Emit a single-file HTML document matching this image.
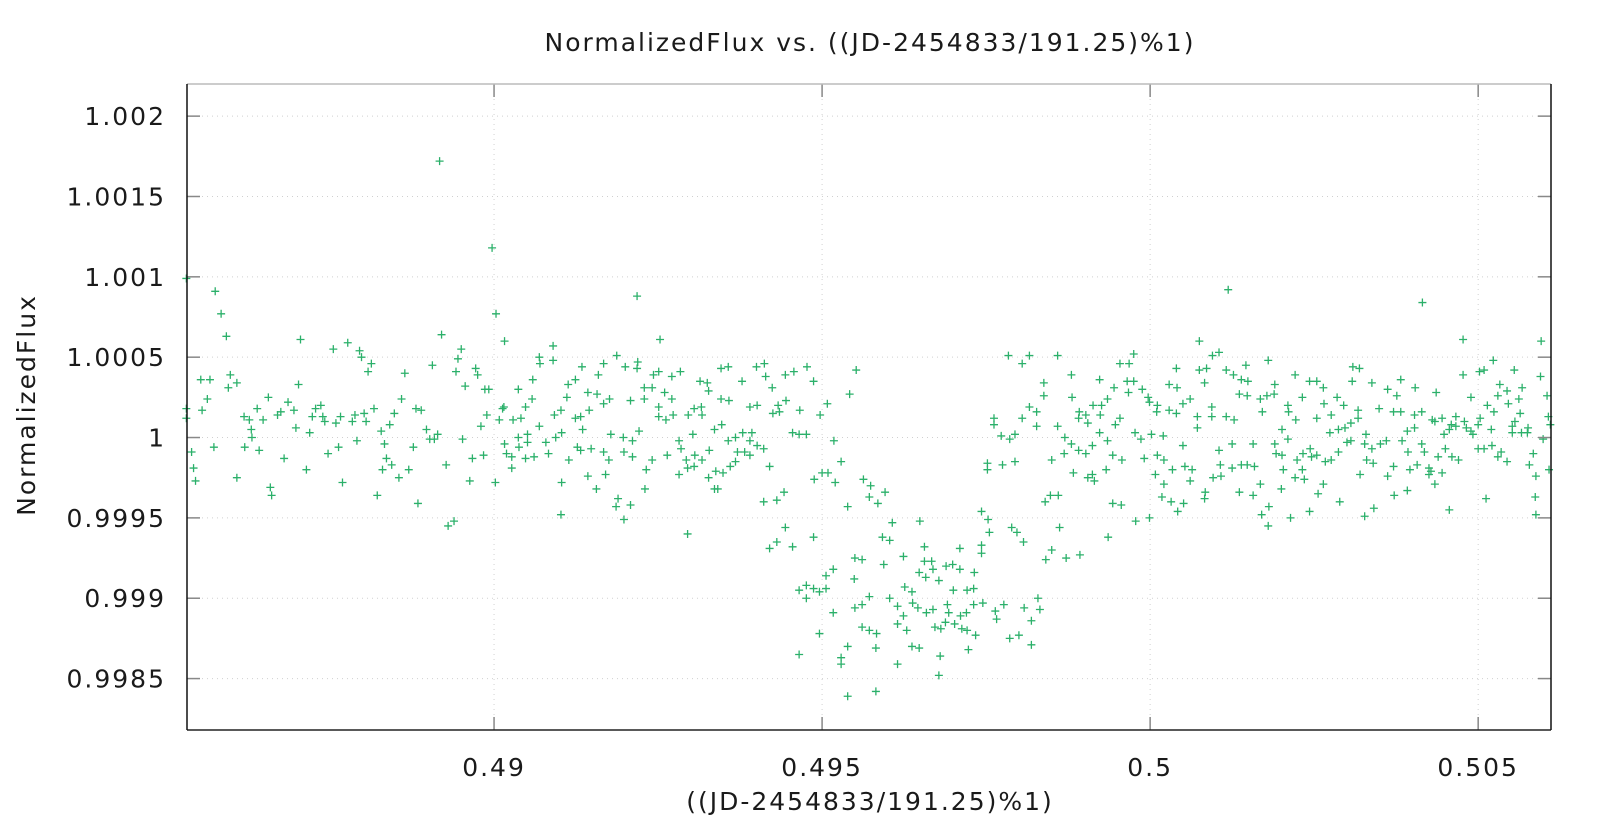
<!DOCTYPE html>
<html>
<head>
<meta charset="utf-8">
<style>
html,body{margin:0;padding:0;background:#fff;}
svg{display:block;}
text{font-family:"DejaVu Sans","Liberation Sans",sans-serif;fill:#1a1a1a;}
</style>
</head>
<body>
<svg id="chart" width="1604" height="816" viewBox="0 0 1604 816" xmlns="http://www.w3.org/2000/svg">
  <text x="870" y="51" font-size="25" text-anchor="middle" letter-spacing="2">NormalizedFlux vs. ((JD-2454833/191.25)%1)</text>
  <text x="870" y="810" font-size="25" text-anchor="middle" letter-spacing="2">((JD-2454833/191.25)%1)</text>
  <text x="0" y="0" font-size="25" text-anchor="middle" letter-spacing="2" transform="translate(35,405) rotate(-90)">NormalizedFlux</text>
  <g id="grid"></g>
  <g id="marks"></g>
  <g id="axes"></g>
</svg>
<script>
const xTicks = [0.49, 0.495, 0.5, 0.505];
const xTickLabels = ["0.49", "0.495", "0.5", "0.505"];
const yTicks = [0.9985, 0.999, 0.9995, 1.0, 1.0005, 1.001, 1.0015, 1.002];
const yTickLabels = ["0.9985", "0.999", "0.9995", "1", "1.0005", "1.001", "1.0015", "1.002"];
const xDomain = [0.48532, 0.50611];
const yDomain = [0.99818, 1.00220];
const observations = [
[0.48531,1.00099],[0.48531,1.00018],[0.48531,1.00012],[0.48539,0.99991],[0.48542,0.99981],[0.48545,0.99973],[0.48553,1.00036],[0.48555,1.00017],[0.48563,1.00024],[0.48567,1.00036],
[0.48573,0.99994],[0.48575,1.00091],[0.48584,1.00077],[0.48592,1.00063],[0.48595,1.00031],[0.48598,1.00039],[0.48608,0.99975],[0.48608,1.00034],[0.48619,1.00013],[0.48620,0.99994],
[0.48627,1.00011],[0.48630,1.00005],[0.48631,1.00000],[0.48639,1.00018],[0.48642,0.99992],[0.48648,1.00011],[0.48656,1.00025],[0.48659,0.99969],[0.48661,0.99964],[0.48670,1.00014],
[0.48675,1.00016],[0.48680,0.99987],[0.48686,1.00022],[0.48695,1.00017],[0.48698,1.00006],[0.48702,1.00033],[0.48705,1.00061],[0.48714,0.99980],[0.48719,1.00003],[0.48723,1.00013],
[0.48728,1.00018],[0.48736,1.00020],[0.48739,1.00013],[0.48742,1.00010],[0.48747,0.99990],[0.48755,1.00055],[0.48759,1.00009],[0.48763,0.99994],[0.48766,1.00013],[0.48769,0.99972],
[0.48777,1.00059],[0.48784,1.00010],[0.48788,1.00014],[0.48791,0.99998],[0.48795,1.00054],[0.48798,1.00050],[0.48802,1.00015],[0.48805,1.00010],[0.48808,1.00041],[0.48813,1.00046],
[0.48817,1.00018],[0.48822,0.99964],[0.48828,1.00004],[0.48830,0.99980],[0.48833,0.99996],[0.48836,0.99987],[0.48841,1.00008],[0.48844,0.99983],[0.48848,1.00015],[0.48855,0.99975],
[0.48859,1.00024],[0.48864,1.00040],[0.48870,0.99980],[0.48877,0.99994],[0.48881,1.00018],[0.48884,0.99959],[0.48889,1.00017],[0.48897,1.00005],[0.48902,0.99999],[0.48906,1.00045],
[0.48909,0.99999],[0.48914,1.00002],[0.48917,1.00172],[0.48920,1.00064],[0.48927,0.99983],[0.48930,0.99945],[0.48939,0.99948],[0.48942,1.00041],[0.48945,1.00049],[0.48950,1.00055],
[0.48952,0.99999],[0.48956,1.00032],[0.48963,0.99973],[0.48967,0.99987],[0.48972,1.00043],[0.48975,1.00039],[0.48980,1.00007],[0.48984,0.99989],[0.48986,1.00030],[0.48989,1.00014],
[0.48992,1.00030],[0.48997,1.00118],[0.49002,0.99972],[0.49003,1.00077],[0.49008,1.00011],[0.49013,1.00018],[0.49016,1.00060],[0.49019,0.99990],
[0.49015,1.00019],[0.49016,0.99996],[0.49029,1.00011],[0.49027,0.99988],[0.49027,0.99981],[0.49037,1.00030],[0.49037,1.00000],[0.49038,0.99994],[0.49041,1.00012],[0.49048,1.00019],
[0.49048,0.99987],[0.49051,1.00002],[0.49051,0.99997],[0.49058,1.00024],[0.49059,1.00036],[0.49061,0.99988],[0.49069,1.00050],[0.49070,1.00046],[0.49069,1.00007],[0.49079,0.99997],
[0.49083,0.99990],[0.49090,1.00057],[0.49090,1.00048],[0.49092,1.00014],[0.49094,1.00000],[0.49102,1.00017],[0.49103,1.00003],[0.49103,0.99972],[0.49102,0.99952],[0.49111,1.00025],
[0.49113,1.00033],[0.49114,0.99986],[0.49124,1.00012],[0.49124,1.00036],[0.49127,0.99994],[0.49132,1.00013],[0.49132,0.99992],[0.49134,1.00044],[0.49135,1.00005],[0.49143,1.00028],
[0.49145,1.00017],[0.49143,0.99976],[0.49148,0.99993],[0.49156,0.99968],[0.49157,1.00027],[0.49159,1.00039],[0.49167,1.00021],[0.49167,1.00046],[0.49167,0.99991],[0.49170,0.99977],
[0.49175,0.99986],[0.49176,1.00024],[0.49178,1.00002],[0.49187,1.00051],[0.49189,0.99962],[0.49186,0.99957],[0.49197,1.00000],[0.49198,0.99991],[0.49200,1.00044],[0.49208,1.00023],
[0.49211,0.99998],[0.49211,0.99988],[0.49198,0.99949],[0.49208,0.99958],[0.49218,1.00088],[0.49218,1.00043],[0.49219,1.00047],[0.49221,1.00004],[0.49229,1.00031],[0.49229,1.00024],
[0.49230,0.99968],[0.49232,0.99980],[0.49241,1.00031],[0.49241,0.99986],[0.49243,1.00039],[0.49251,1.00041],[0.49251,1.00019],[0.49251,1.00013],[0.49253,1.00061],[0.49260,1.00028],
[0.49262,1.00011],[0.49264,0.99989],[0.49271,1.00038],[0.49271,1.00024],[0.49273,1.00014],[0.49282,0.99998],[0.49284,1.00041],[0.49285,0.99993],[0.49282,0.99977],[0.49293,0.99986],
[0.49295,0.99981],[0.49296,1.00014],[0.49303,1.00002],[0.49305,1.00018],[0.49306,0.99989],[0.49305,0.99982],[0.49314,1.00035],[0.49316,1.00019],[0.49317,1.00014],[0.49317,0.99986],
[0.49325,1.00034],[0.49327,1.00029],[0.49328,0.99992],[0.49327,0.99975],[0.49336,1.00005],[0.49336,0.99968],[0.49341,0.99968],[0.49338,0.99979],[0.49346,1.00043],[0.49346,1.00024],
[0.49347,1.00008],[0.49349,0.99978],[0.49357,1.00044],[0.49358,1.00023],[0.49357,0.99998],[0.49360,0.99982],[0.49368,1.00000],[0.49368,0.99985],[0.49371,0.99991],[0.49378,1.00035],
[0.49379,1.00003],[0.49382,0.99991],[0.49390,0.99998],[0.49390,1.00019],[0.49390,0.99989],[0.49393,1.00003],[0.49400,1.00044],[0.49401,0.99995],[0.49401,1.00020],[0.49411,0.99993],
[0.49411,0.99960],[0.49412,1.00046],[0.49414,1.00038],[0.49420,0.99982],[0.49424,1.00031],[0.49431,0.99961],[0.49433,1.00020],[0.49435,1.00016],[0.49425,1.00015],[0.49442,0.99966],
[0.49444,1.00039],[0.49445,1.00023],[0.49457,1.00041],[0.49455,1.00003],[0.49465,1.00002],[0.49466,1.00017],[0.49476,1.00002],[0.49477,1.00044],[0.49487,1.00035],[0.49488,0.99974],
[0.49497,1.00014],[0.49500,0.99978],[0.49508,1.00021],[0.49509,0.99978],[0.49518,0.99998],[0.49520,0.99972],[0.49295,0.99940],
[0.49444,0.99944],[0.49431,0.99935],[0.49420,0.99931],[0.49455,0.99932],[0.49487,0.99938],[0.49465,0.99905],[0.49476,0.99908],[0.49476,0.99900],[0.49487,0.99906],[0.49496,0.99904],
[0.49506,0.99906],[0.49506,0.99914],[0.49517,0.99918],[0.49517,0.99891],[0.49496,0.99878],[0.49465,0.99865],[0.49529,0.99863],[0.49529,0.99859],[0.49539,0.99870],[0.49539,0.99839],
[0.49550,0.99925],[0.49561,0.99924],[0.49549,0.99912],[0.49550,0.99894],[0.49561,0.99896],[0.49561,0.99882],[0.49572,0.99901],[0.49572,0.99880],[0.49583,0.99878],[0.49582,0.99869],
[0.49582,0.99842],[0.49594,0.99921],[0.49592,0.99938],[0.49603,0.99936],[0.49603,0.99900],[0.49607,0.99947],[0.49615,0.99895],[0.49615,0.99884],[0.49615,0.99859],[0.49624,0.99926],
[0.49624,0.99889],[0.49626,0.99907],[0.49629,0.99880],[0.49637,0.99904],[0.49637,0.99870],[0.49638,0.99897],[0.49646,0.99894],[0.49648,0.99869],[0.49649,0.99948],[0.49648,0.99916],
[0.49656,0.99932],[0.49656,0.99923],[0.49658,0.99913],[0.49659,0.99891],[0.49667,0.99923],[0.49669,0.99918],[0.49669,0.99893],[0.49672,0.99882],[0.49678,0.99911],[0.49680,0.99864],
[0.49678,0.99852],[0.49681,0.99881],[0.49689,0.99920],[0.49691,0.99896],[0.49693,0.99891],[0.49688,0.99885],[0.49699,0.99921],[0.49700,0.99905],[0.49702,0.99884],[0.49710,0.99931],
[0.49710,0.99918],[0.49711,0.99889],[0.49713,0.99881],[0.49721,0.99905],[0.49721,0.99880],[0.49723,0.99868],[0.49720,0.99891],[0.49731,0.99906],[0.49732,0.99916],[0.49731,0.99896],
[0.49734,0.99877],[0.49743,0.99954],[0.49743,0.99933],[0.49743,0.99928],[0.49745,0.99897],[0.49753,0.99949],[0.49755,0.99941],[0.49764,0.99892],[0.49766,0.99887],[0.49777,0.99896],
[0.49786,0.99875],[0.49789,0.99944],[0.49797,0.99941],[0.49800,0.99877],[0.49807,0.99935],[0.49808,0.99894],[0.49819,0.99886],[0.49819,0.99871],[0.49829,0.99900],[0.49832,0.99893],
[0.49841,0.99924],[0.49850,0.99930],[0.49840,0.99960],[0.49848,0.99964],[0.49860,0.99964],[0.49862,0.99944],[0.49872,0.99925],[0.49893,0.99927],[0.49936,0.99938],
[0.49752,0.99984],[0.49752,0.99980],[0.49762,1.00012],[0.49762,1.00008],[0.49775,0.99983],[0.49773,1.00001],[0.49786,0.99999],[0.49794,1.00002],[0.49794,0.99985],[0.49784,1.00051],
[0.49805,1.00046],[0.49816,1.00051],[0.49816,1.00019],[0.49805,1.00012],[0.49827,1.00016],[0.49827,1.00007],[0.49838,1.00034],[0.49838,1.00026],[0.49850,0.99986],[0.49859,1.00007],
[0.49859,1.00051],[0.49552,1.00042],[0.49542,1.00027],[0.49529,0.99985],[0.49539,0.99957],[0.49563,0.99974],[0.49574,0.99970],[0.49572,0.99963],[0.49585,0.99959],[0.49596,0.99966],
[0.49880,1.00039],[0.49881,1.00025],[0.49870,1.00000],[0.49880,0.99996],[0.49869,0.99990],[0.49883,0.99978],[0.49892,1.00016],[0.49891,1.00012],[0.49902,1.00014],[0.49905,1.00009],
[0.49891,0.99992],[0.49902,0.99990],[0.49912,0.99995],[0.49905,0.99975],[0.49912,0.99977],[0.49915,0.99973],[0.49913,1.00020],[0.49923,1.00036],[0.49926,1.00020],[0.49924,1.00014],
[0.49923,1.00003],[0.49935,1.00024],[0.49935,0.99998],[0.49933,0.99980],[0.49945,1.00031],[0.49947,1.00008],[0.49943,0.99989],[0.49943,0.99959],[0.49954,1.00046],[0.49968,1.00046],
[0.49954,1.00012],[0.49957,0.99986],[0.49956,0.99958],[0.49965,1.00035],[0.49975,1.00052],[0.49975,1.00035],[0.49967,1.00028],[0.49977,1.00003],[0.49978,0.99948],[0.49988,1.00030],
[0.49986,0.99999],[0.49991,0.99987],[0.49997,1.00025],[0.49999,1.00022],[0.50002,1.00002],[0.49999,0.99950],[0.50011,1.00020],[0.50010,1.00016],[0.50020,1.00001],[0.50011,0.99989],
[0.50021,0.99986],[0.50008,0.99977],[0.50021,0.99971],[0.50018,0.99963],[0.50032,0.99960],[0.50040,1.00043],[0.50029,1.00033],[0.50041,1.00031],[0.50029,1.00017],[0.50040,1.00015],
[0.50034,0.99980],[0.50050,1.00021],[0.50050,0.99995],[0.50053,0.99982],[0.50064,0.99980],[0.50061,0.99973],[0.50051,0.99959],[0.50042,0.99954],[0.50061,1.00024],[0.50075,1.00060],
[0.50075,1.00042],[0.50086,1.00043],[0.50083,1.00034],[0.50072,1.00013],[0.50072,1.00006],[0.50094,1.00019],[0.50094,1.00013],[0.50095,1.00051],[0.50105,1.00053],[0.50119,1.00092],
[0.50116,1.00042],[0.50127,1.00039],[0.50139,1.00036],[0.50149,1.00035],[0.50136,1.00027],[0.50148,1.00026],[0.50146,1.00045],[0.50116,1.00013],[0.50128,1.00011],[0.50105,0.99992],
[0.50107,0.99983],[0.50108,0.99976],[0.50096,0.99975],[0.50084,0.99966],[0.50083,0.99962],[0.50125,0.99996],[0.50125,0.99981],[0.50139,0.99983],[0.50148,0.99983],[0.50159,0.99982],
[0.50157,0.99996],[0.50136,0.99966],[0.50157,0.99964],[0.50168,0.99971],[0.50170,0.99952],[0.50181,0.99957],[0.50180,0.99945],[0.50168,1.00024],[0.50171,1.00016],[0.50178,1.00026],
[0.50180,1.00048],[0.50189,1.00027],[0.50190,1.00033],[0.50190,0.99996],[0.50192,0.99990],[0.50201,0.99989],[0.50203,0.99980],[0.50200,0.99968],[0.50201,1.00005],[0.50210,1.00020],
[0.50211,1.00016],[0.50210,0.99999],
[0.50221,1.00039],[0.50232,1.00025],[0.50222,1.00011],[0.50214,0.99950],[0.50243,1.00035],[0.50254,1.00035],[0.50264,1.00031],[0.50265,1.00021],[0.50254,1.00012],[0.50244,0.99993],
[0.50233,0.99990],[0.50246,0.99988],[0.50254,0.99989],[0.50224,0.99986],[0.50232,0.99980],[0.50221,0.99975],[0.50235,0.99974],[0.50264,0.99971],[0.50256,0.99965],[0.50243,0.99954],
[0.50267,0.99985],[0.50276,0.99986],[0.50287,0.99991],[0.50274,1.00003],[0.50276,1.00014],[0.50285,1.00025],[0.50287,1.00005],[0.50295,1.00020],[0.50297,1.00006],[0.50300,0.99997],
[0.50306,0.99998],[0.50306,1.00009],[0.50289,0.99960],[0.50309,1.00044],[0.50319,1.00043],[0.50308,1.00035],[0.50317,1.00017],[0.50317,1.00012],[0.50329,1.00002],[0.50327,0.99996],
[0.50338,0.99993],[0.50330,0.99986],[0.50340,0.99984],[0.50320,0.99977],[0.50327,0.99951],[0.50341,0.99956],[0.50338,1.00034],[0.50349,1.00018],[0.50351,0.99996],[0.50360,0.99998],
[0.50362,1.00030],[0.50371,1.00016],[0.50382,1.00016],[0.50376,1.00026],[0.50382,1.00036],[0.50384,0.99998],[0.50362,0.99976],[0.50371,0.99982],[0.50372,0.99964],[0.50392,0.99967],
[0.50393,0.99991],[0.50392,1.00004],[0.50403,1.00014],[0.50403,1.00006],[0.50404,1.00031],[0.50396,0.99980],[0.50407,0.99983],[0.50414,1.00016],[0.50414,0.99996],[0.50418,0.99991],
[0.50415,1.00084],[0.50425,0.99981],[0.50425,0.99977],[0.50428,0.99979],[0.50434,0.99971],[0.50430,1.00011],[0.50434,1.00010],[0.50436,1.00028],[0.50445,1.00012],[0.50448,1.00002],
[0.50439,0.99988],[0.50445,0.99978],[0.50450,0.99993],[0.50456,1.00005],[0.50459,1.00008],[0.50466,1.00013],[0.50466,1.00007],[0.50460,0.99988],[0.50470,0.99986],[0.50456,0.99955],
[0.50477,1.00061],[0.50477,1.00039],[0.50479,1.00010],[0.50482,1.00006],[0.50489,1.00025],[0.50489,1.00004],[0.50492,1.00002],[0.50500,1.00008],[0.50503,1.00012],[0.50500,0.99993],
[0.50509,0.99993],[0.50502,1.00041],[0.50509,1.00042],[0.50523,1.00048],[0.50514,1.00020],[0.50524,1.00016],[0.50520,1.00005],[0.50521,0.99995],[0.50535,0.99991],[0.50530,0.99988],
[0.50544,0.99985],[0.50533,1.00033],[0.50530,1.00026],[0.50544,1.00029],[0.50546,1.00021],[0.50555,1.00042],[0.50552,1.00007],[0.50552,1.00003],[0.50556,1.00010],[0.50512,0.99962],
[0.50596,1.00060],[0.50595,1.00038],[0.50567,1.00031],[0.50605,1.00026],[0.50562,1.00024],[0.50564,1.00015],[0.50607,1.00013],[0.50610,1.00008],[0.50576,1.00006],[0.50575,1.00003],
[0.50566,1.00003],[0.50599,0.99999],[0.50584,0.99990],[0.50578,0.99983],[0.50608,0.99980],[0.50588,0.99976],[0.50587,0.99963],[0.50588,0.99952]
];

const L = 187, R = 1551, T = 84, B = 730;
function xScale(v){ return L + (v - xDomain[0]) / (xDomain[1] - xDomain[0]) * (R - L); }
function yScale(v){ return B - (v - yDomain[0]) / (yDomain[1] - yDomain[0]) * (B - T); }
const NS = "http://www.w3.org/2000/svg";
function mk(tag, attrs){ const e = document.createElementNS(NS, tag); for (const k in attrs) e.setAttribute(k, attrs[k]); return e; }

const grid = document.getElementById('grid');
const axes = document.getElementById('axes');
const marks = document.getElementById('marks');

yTicks.forEach((t, i) => {
  const y = yScale(t);
  const g = mk('line', {x1: L, x2: R, y1: y, y2: y, stroke: '#d0d0d0', 'stroke-width': 1, 'stroke-dasharray': '1,4'});
  
  
  grid.appendChild(g);
  const tl = mk('line', {x1: L, x2: L + 13, y1: y, y2: y, stroke: '#888', 'stroke-width': 1.5});
  
  
  axes.appendChild(tl);
  const tr = mk('line', {x1: R - 13, x2: R, y1: y, y2: y, stroke: '#888', 'stroke-width': 1.5});
  
  
  axes.appendChild(tr);
  const lb = mk('text', {x: 166, y: y + 9, 'font-size': 25, 'text-anchor': 'end', 'letter-spacing': 2});
  lb.textContent = yTickLabels[i];
  
  
  axes.appendChild(lb);
});

xTicks.forEach((t, i) => {
  const x = xScale(t);
  const g = mk('line', {x1: x, x2: x, y1: T, y2: B, stroke: '#d0d0d0', 'stroke-width': 1, 'stroke-dasharray': '1,4'});
  
  
  grid.appendChild(g);
  const tb = mk('line', {x1: x, x2: x, y1: B, y2: B - 13, stroke: '#888', 'stroke-width': 1.5});
  
  
  axes.appendChild(tb);
  const tt = mk('line', {x1: x, x2: x, y1: T, y2: T + 13, stroke: '#888', 'stroke-width': 1.5});
  
  
  axes.appendChild(tt);
  const lb = mk('text', {x: x, y: 776, 'font-size': 25, 'text-anchor': 'middle', 'letter-spacing': 2});
  lb.textContent = xTickLabels[i];
  
  
  axes.appendChild(lb);
});

const frameTop = mk('line', {x1: L, x2: R, y1: T, y2: T, stroke: '#bbb', 'stroke-width': 1.5});


axes.appendChild(frameTop);
const frameBottom = mk('line', {x1: L, x2: R, y1: B, y2: B, stroke: '#222', 'stroke-width': 1.5});


axes.appendChild(frameBottom);
const frameLeft = mk('line', {x1: L, x2: L, y1: T, y2: B, stroke: '#111', 'stroke-width': 1.5});


axes.appendChild(frameLeft);
const frameRight = mk('line', {x1: R, x2: R, y1: T, y2: B, stroke: '#111', 'stroke-width': 1.5});


axes.appendChild(frameRight);

observations.forEach(p => {
  const cx = xScale(p[0]), cy = yScale(p[1]);
  const m = mk('path', {d: `M${cx-4},${cy}H${cx+4}M${cx},${cy-4}V${cy+4}`, stroke: '#2bb06a', 'stroke-width': 1.3, fill: 'none'});
  
  
  marks.appendChild(m);
});
</script>
</body>
</html>
